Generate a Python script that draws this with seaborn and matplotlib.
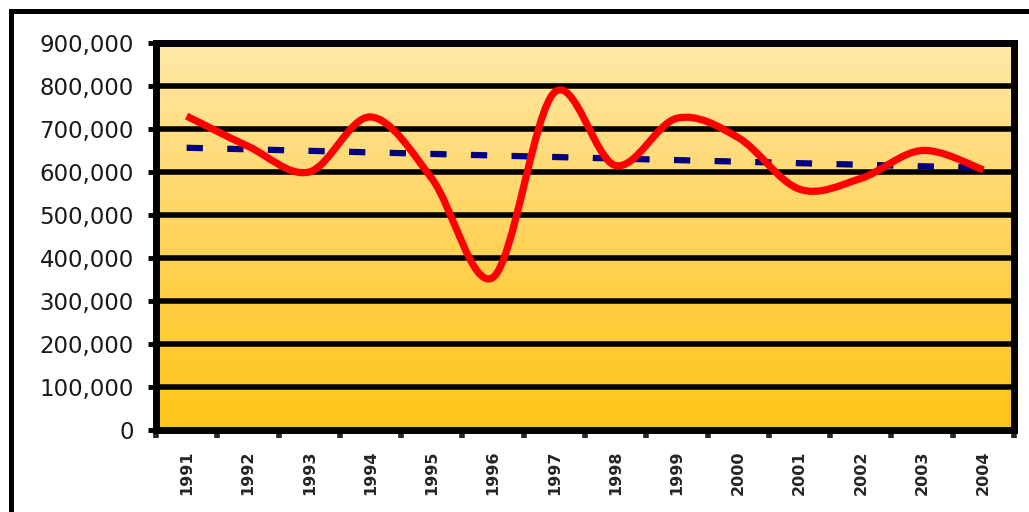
import matplotlib
matplotlib.use("Agg")
import matplotlib.pyplot as plt
import numpy as np
import seaborn as sns
from matplotlib.path import Path
from matplotlib.patches import PathPatch, Rectangle
from matplotlib.colors import LinearSegmentedColormap
from matplotlib.ticker import FuncFormatter, FixedLocator

years = ['1991', '1992', '1993', '1994', '1995', '1996', '1997',
         '1998', '1999', '2000', '2001', '2002', '2003', '2004']
values = [730000, 660000, 600000, 728000, 585000, 355000, 785000,
          615000, 725000, 680000, 560000, 585000, 650000, 605000]
y_ticks = [0, 100000, 200000, 300000, 400000, 500000, 600000, 700000, 800000, 900000]


def smooth_path(xs, ys):
    # catmull-rom style bezier, like excel's "smoothed line"
    pts = np.column_stack([xs, ys]).astype(float)
    padded = np.vstack([pts[0], pts, pts[-1]])
    verts = [pts[0]]
    codes = [Path.MOVETO]
    for i in range(len(pts) - 1):
        p0, p1, p2, p3 = padded[i], padded[i + 1], padded[i + 2], padded[i + 3]
        c1 = p1 + (p2 - p0) / 6.0
        c2 = p2 - (p3 - p1) / 6.0
        verts += [c1, c2, p2]
        codes += [Path.CURVE4] * 3
    return Path(verts, codes)


sns.set_style('white')
plt.rcParams['font.family'] = ['DejaVu Sans']

fig = plt.figure(figsize=(10.29, 5.12), dpi=100)
ax = fig.add_axes([156 / 1029, 1 - 430 / 512, (1014 - 156) / 1029, (430 - 43) / 512])

xpos = np.arange(len(years))
ax.set_xlim(-0.5, len(years) - 0.5)
ax.set_ylim(0, 900000)

# yellow gradient background
cmap = LinearSegmentedColormap.from_list('bg', ['#ffc516', '#ffd35a', '#ffe8a8'])
grad = np.linspace(0, 1, 256).reshape(-1, 1)
ax.imshow(grad, cmap=cmap, origin='lower', aspect='auto',
          extent=[0, 1, 0, 1], transform=ax.transAxes, zorder=0)

for v in y_ticks:
    ax.axhline(v, color='black', lw=4, zorder=1)

# linear trend line
sns.regplot(x=xpos, y=values, ax=ax, ci=None, scatter=False, truncate=True,
            line_kws={'color': '#000080', 'lw': 4.5, 'dashes': (2.6, 3.9),
                      'solid_capstyle': 'butt', 'dash_capstyle': 'butt', 'zorder': 3})

ax.add_patch(PathPatch(smooth_path(xpos, values), facecolor='none',
                       edgecolor='#ff0000', lw=5.2, zorder=4, capstyle='butt'))

ax.set_xlim(-0.5, len(years) - 0.5)
ax.set_ylim(0, 900000)

ax.yaxis.set_major_locator(FixedLocator(y_ticks))
ax.yaxis.set_major_formatter(FuncFormatter(lambda v, p: f'{v:,.0f}'))
ax.tick_params(axis='y', which='major', left=True, length=6, width=3.5,
               labelsize=16.5, pad=10, colors='black', labelcolor='#1a1a1a')

ax.xaxis.set_major_locator(FixedLocator(np.arange(-0.5, len(years), 1.0)))
ax.xaxis.set_minor_locator(FixedLocator(xpos))
ax.set_xticklabels([], minor=False)
ax.set_xticklabels(years, minor=True, rotation=90, fontweight='bold', fontsize=11.5)
ax.tick_params(axis='x', which='major', bottom=True, length=6, width=4, direction='out')
ax.tick_params(axis='x', which='minor', bottom=True, length=0, pad=15)
for lbl in ax.get_xticklabels(minor=True):
    lbl.set_verticalalignment('top')

for s in ax.spines.values():
    s.set_visible(True)
    s.set_color('black')
    s.set_linewidth(5)
    s.set_zorder(5)

ax.set_xlabel('')
ax.set_ylabel('')

# outer chart frame (left and top visible)
fig.add_artist(Rectangle((10.5 / 1029, -0.2), 1.2, 1.2 - 10.5 / 512,
                         transform=fig.transFigure, fill=False, lw=3.6,
                         edgecolor='black', clip_on=False))

fig.savefig('out.png', dpi=100, facecolor='white')
